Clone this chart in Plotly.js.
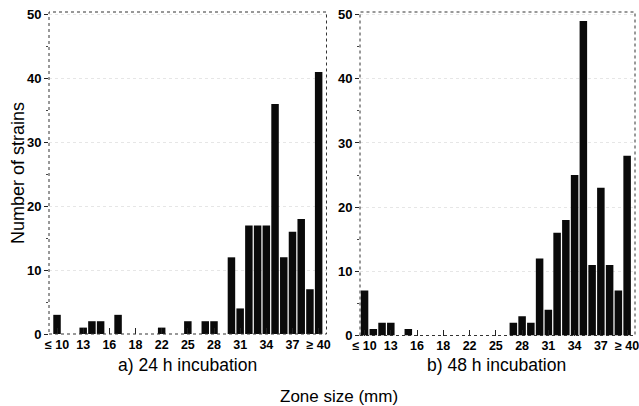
<!DOCTYPE html>
<html><head><meta charset="utf-8">
<script src="https://cdn.plot.ly/plotly-3.0.1.min.js"></script>
<style>html,body{margin:0;padding:0;background:#fff}#chart{width:639px;height:406px}</style>
</head><body><div id="chart"></div>
<script>
const zoneCategories = ['≤10','11','12','13','14','15','16','17','18','19','20','21','22','23','24','25','26','27','28','29','30','31','32','33','34','35','36','37','38','39','≥40'];
const strains24h = [3,0,0,1,2,2,0,3,0,0,0,0,1,0,0,2,0,2,2,0,12,4,17,17,17,36,12,16,18,7,41];
const strains48h = [7,1,2,2,0,1,0,0,0,0,0,0,0,0,0,0,0,2,3,2,12,4,16,18,25,49,11,23,11,7,28];
const tickCats = ['≤10','13','16','19','22','25','28','31','34','37','≥40'];
const tickLabels = ['≤ 10','13','16','18','22','25','28','31','34','37','≥ 40'];
const yTicks = [0,10,20,30,40,50];

const FONT = 'Liberation Sans, Arial, Helvetica, sans-serif';
const W = 639, H = 406;

const traces = [
  {type:'bar', x: zoneCategories, y: strains24h, xaxis:'x', yaxis:'y', marker:{color:'#0a0a0a'}, hoverinfo:'x+y'},
  {type:'bar', x: zoneCategories, y: strains48h, xaxis:'x2', yaxis:'y2', marker:{color:'#0a0a0a'}, hoverinfo:'x+y'}
];

function xAxis(domain, range){
  return {type:'category', domain, range, categoryorder:'array', categoryarray: zoneCategories,
    tickmode:'array', tickvals: tickCats, ticktext: tickLabels,
    ticks:'inside', ticklen:6, tickwidth:1, tickcolor:'#222', ticklabelstandoff:1,
    showline:false, showgrid:false, zeroline:false,
    tickfont:{family:FONT, size:12.5, color:'#000', weight:'bold'}};
}
function yAxis(domain, anchor){
  return {domain, anchor, range:[0,50.4], tickmode:'array', tickvals:yTicks,
    ticks:'outside', ticklen:4, tickwidth:1, tickcolor:'#222',
    minor:{tickmode:'array', tickvals:[5,15,25,35,45], ticks:'outside', ticklen:2, tickcolor:'#444', showgrid:false},
    showline:false, zeroline:false, showgrid:true, gridcolor:'#e6e6e6', griddash:'dot', gridwidth:1,
    tickfont:{family:FONT, size:13, color:'#000', weight:'bold'}};
}

const layout = {
  width:W, height:H, margin:{l:0,r:0,t:0,b:0}, paper_bgcolor:'#fff', plot_bgcolor:'#fff',
  showlegend:false, bargap:0.14,
  xaxis: Object.assign(xAxis([49/W, 326.5/W], [-0.92, 30.9]), {anchor:'y'}),
  yaxis: yAxis([1-334/H, 1-12/H], 'x'),
  xaxis2: Object.assign(xAxis([360/W, 635/W], [-0.52, 30.9]), {anchor:'y2'}),
  yaxis2: yAxis([1-335.5/H, 1-12/H], 'x2'),
  shapes: [
    {type:'rect', xref:'x domain', yref:'y domain', x0:0, x1:1, y0:0, y1:1, line:{color:'#333', width:1, dash:'dot'}},
    {type:'rect', xref:'x2 domain', yref:'y2 domain', x0:0, x1:1, y0:0, y1:1, line:{color:'#333', width:1, dash:'dot'}}
  ],
  annotations: [
    {text:'a) 24 h incubation', xref:'paper', yref:'paper', x:187.5/W, y:1-365/H, showarrow:false, xanchor:'center', yanchor:'middle', font:{family:FONT, size:17.5, color:'#000'}},
    {text:'b) 48 h incubation', xref:'paper', yref:'paper', x:496/W, y:1-365/H, showarrow:false, xanchor:'center', yanchor:'middle', font:{family:FONT, size:17.5, color:'#000'}},
    {text:'Zone size (mm)', xref:'paper', yref:'paper', x:339/W, y:1-396/H, showarrow:false, xanchor:'center', yanchor:'middle', font:{family:FONT, size:17, color:'#000'}},
    {text:'Number of strains', xref:'paper', yref:'paper', x:18/W, y:1-173/H, showarrow:false, textangle:-90, xanchor:'center', yanchor:'middle', font:{family:FONT, size:18, color:'#000'}}
  ]
};

Plotly.newPlot('chart', traces, layout, {displayModeBar:false, staticPlot:true});
</script>
</body></html>
